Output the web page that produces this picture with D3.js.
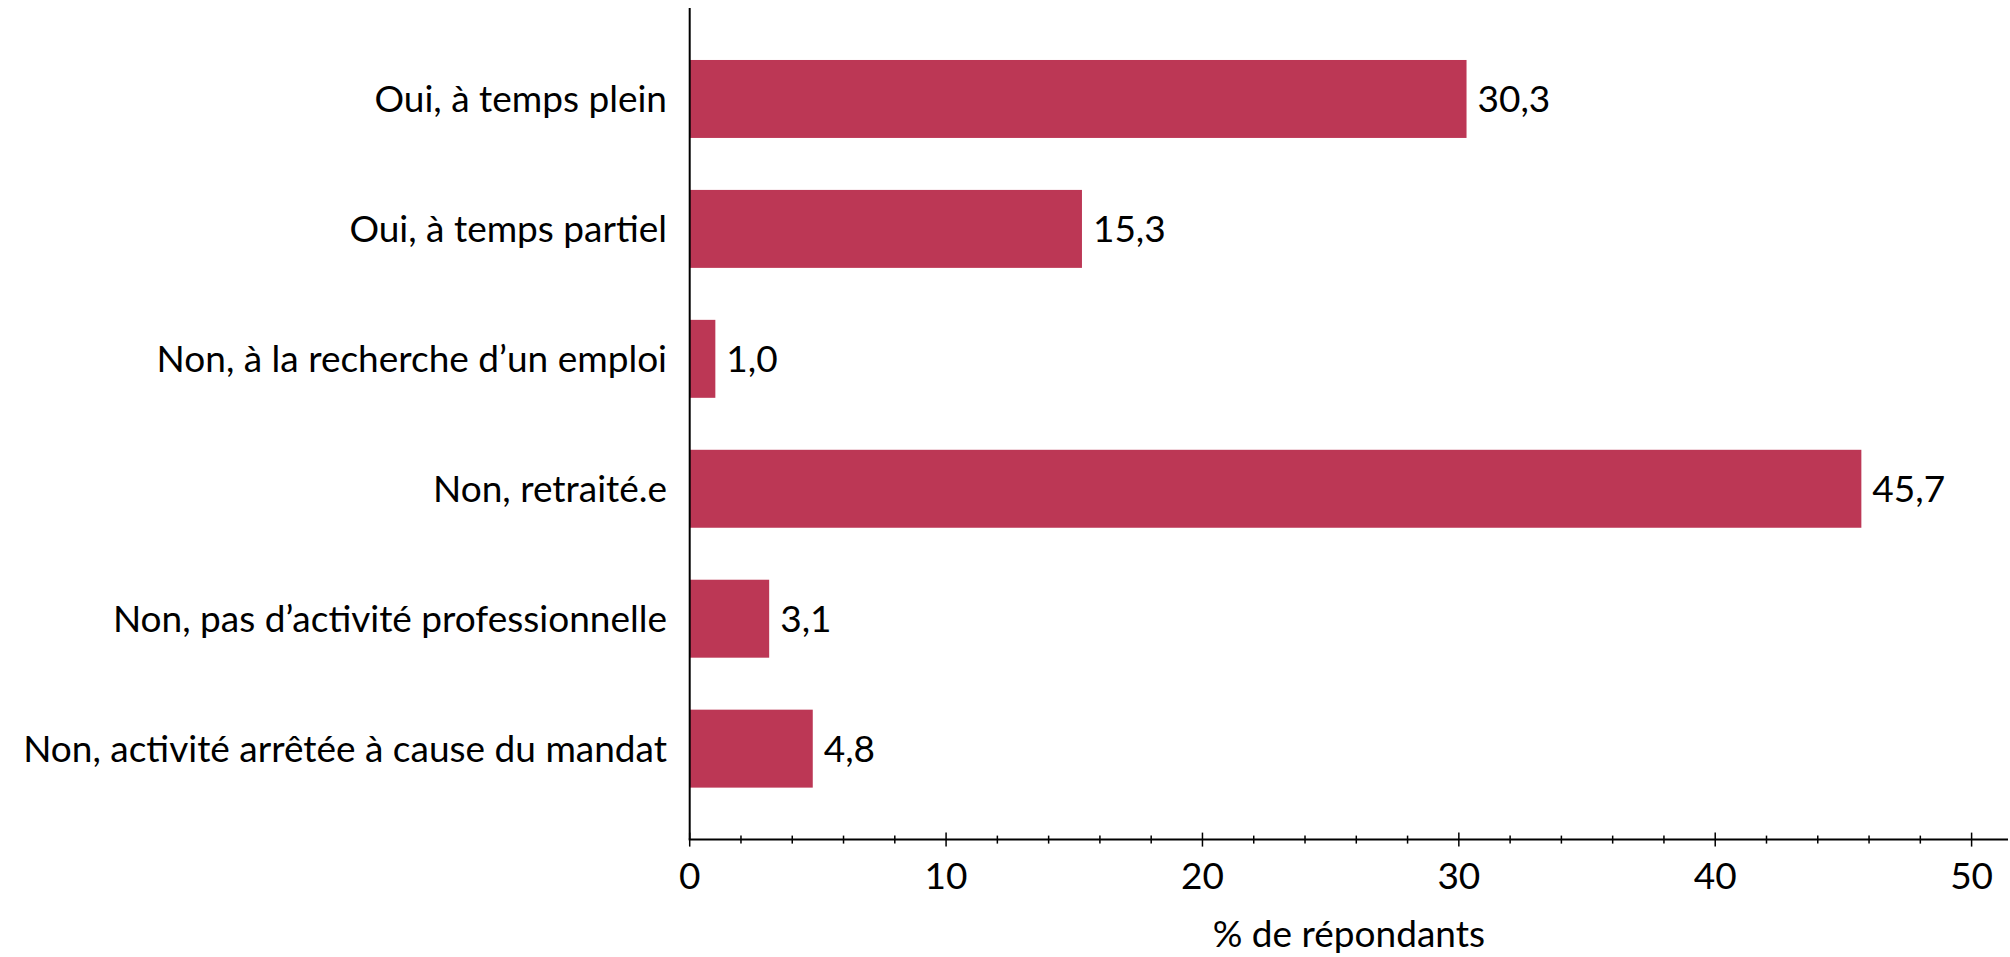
<!DOCTYPE html>
<html>
<head>
<meta charset="utf-8">
<script src="https://d3js.org/d3.v7.min.js"></script>
<style>
  body { margin: 0; background: #fff; }
  text { font-family: Lato, "Open Sans", sans-serif; fill: #000; }
</style>
</head>
<body>
<div id="chart"></div>
<script>
// donnees
var categories = [
  "Oui, à temps plein",
  "Oui, à temps partiel",
  "Non, à la recherche d\u2019un emploi",
  "Non, retraité.e",
  "Non, pas d\u2019activité professionnelle",
  "Non, activité arrêtée à cause du mandat"
];
var valeurs = [30.3, 15.3, 1.0, 45.7, 3.1, 4.8];
var ticksMajeurs = [0, 10, 20, 30, 40, 50];
var titreAxe = "% de répondants";

var W = 2010, H = 957;
var fs = 37;

var svg = d3.select("#chart").append("svg")
  .attr("width", W).attr("height", H);

var x = d3.scaleLinear().domain([0, 50]).range([689.7, 1971.6]);
var y = d3.scaleBand().domain(categories).range([8, 839.6])
  .paddingInner(0.4).paddingOuter(0.4);

var axeY = 839.6, xFin = 2008;

// barres
svg.selectAll("rect.bar").data(valeurs).enter().append("rect")
  .attr("class", "bar")
  .attr("x", x(0))
  .attr("y", function(d, i) { return y(categories[i]); })
  .attr("width", function(d) { return x(d) - x(0); })
  .attr("height", y.bandwidth())
  .attr("fill", "#bc3755");

// etiquettes de valeurs
svg.selectAll("text.val").data(valeurs).enter().append("text")
  .attr("class", "val")
  .attr("x", function(d) { return x(d) + 11; })
  .attr("y", function(d, i) { return y(categories[i]) + y.bandwidth() / 2 + 13; })
  .style("font-size", fs + "px")
  .text(function(d) { return d.toFixed(1).replace(".", ","); });

// categories
svg.selectAll("text.cat").data(categories).enter().append("text")
  .attr("class", "cat")
  .attr("x", 667)
  .attr("y", function(d) { return y(d) + y.bandwidth() / 2 + 13; })
  .attr("text-anchor", "end")
  .style("font-size", fs + "px")
  .text(function(d) { return d; });

// axe vertical
svg.append("line")
  .attr("x1", x(0)).attr("x2", x(0))
  .attr("y1", 8).attr("y2", axeY)
  .attr("stroke", "#000").attr("stroke-width", 2);

// axe horizontal
svg.append("line")
  .attr("x1", x(0) - 1).attr("x2", xFin)
  .attr("y1", axeY).attr("y2", axeY)
  .attr("stroke", "#000").attr("stroke-width", 2);

var mineurs = d3.range(0, 51, 2).filter(function(v) { return v % 10 !== 0; });
svg.selectAll("line.min").data(mineurs).enter().append("line")
  .attr("x1", function(d) { return x(d); }).attr("x2", function(d) { return x(d); })
  .attr("y1", axeY - 4).attr("y2", axeY + 4)
  .attr("stroke", "#000").attr("stroke-width", 1.5);

svg.selectAll("line.maj").data(ticksMajeurs).enter().append("line")
  .attr("x1", function(d) { return x(d); }).attr("x2", function(d) { return x(d); })
  .attr("y1", axeY - 7).attr("y2", axeY + 7)
  .attr("stroke", "#000").attr("stroke-width", 1.5);

svg.selectAll("text.tick").data(ticksMajeurs).enter().append("text")
  .attr("class", "tick")
  .attr("x", function(d) { return x(d); })
  .attr("y", 889)
  .attr("text-anchor", "middle")
  .style("font-size", fs + "px")
  .text(function(d) { return d; });

svg.append("text")
  .attr("x", (x(0) + xFin) / 2)
  .attr("y", 947)
  .attr("text-anchor", "middle")
  .style("font-size", fs + "px")
  .text(titreAxe);
</script>
</body>
</html>
